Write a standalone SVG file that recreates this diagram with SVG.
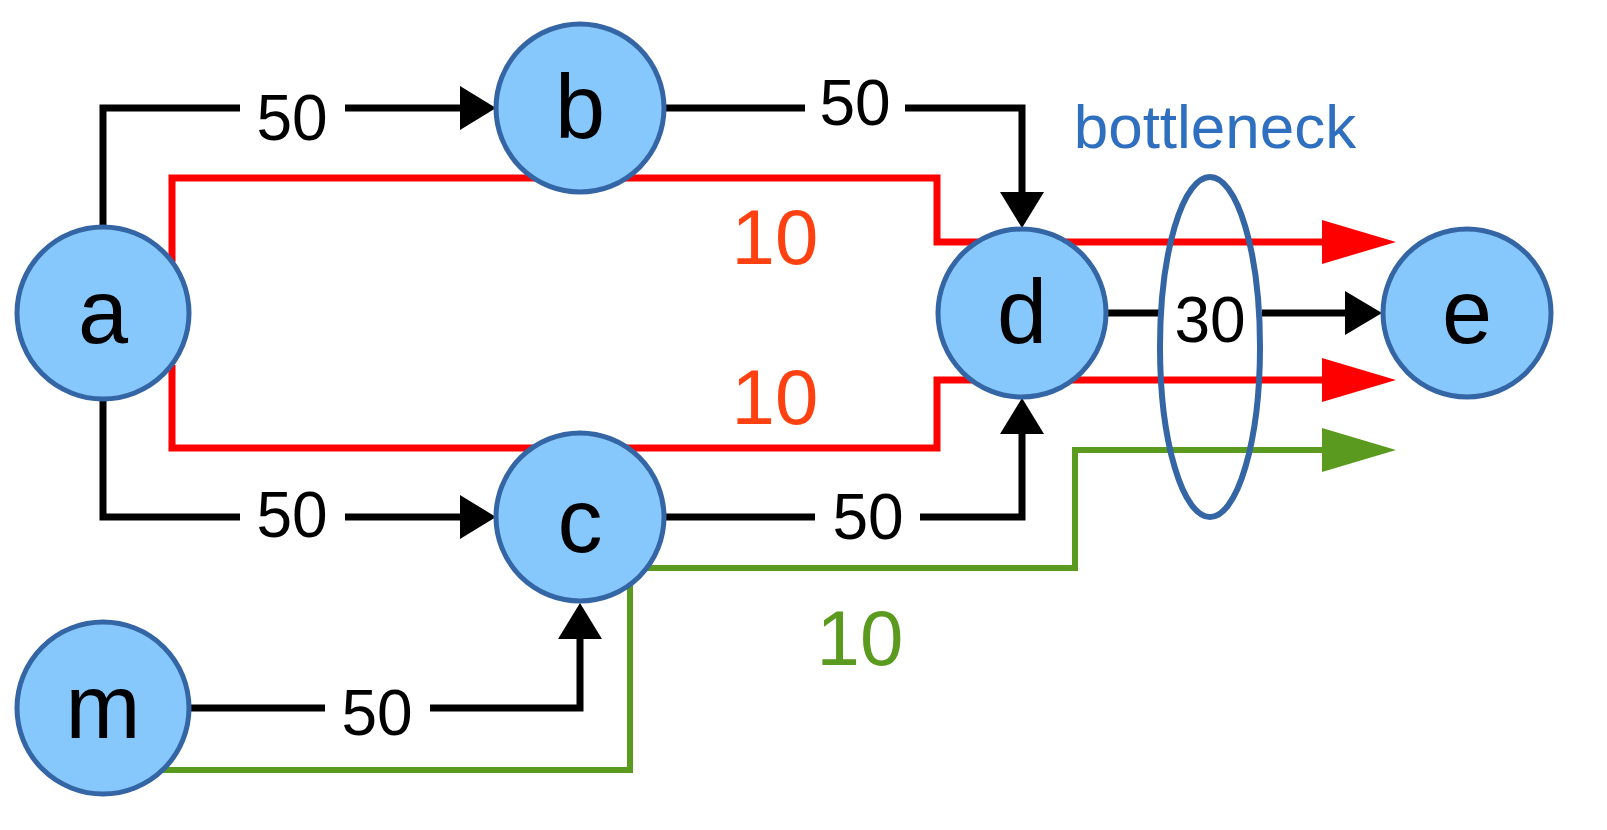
<svg xmlns="http://www.w3.org/2000/svg" width="1607" height="830" viewBox="0 0 1607 830">
<style>
.n{fill:#87c8fc;stroke:#3465a4;stroke-width:5}
.nt{font-family:"Liberation Sans",sans-serif;font-size:90px;text-anchor:middle;fill:#000}
.e{fill:none;stroke:#000;stroke-width:7}
.lb{font-family:"Liberation Sans",sans-serif;font-size:64px;text-anchor:middle;fill:#000}
.r{fill:none;stroke:#ff0000;stroke-width:7}
.g{fill:none;stroke:#5a9a1e;stroke-width:6}
.fl{font-family:"Liberation Sans",sans-serif;font-size:78px;text-anchor:middle}
</style>
<g id="connectors">
<path class="e" d="M103,226V108H240M345,108H460"/><path d="M460,86L496,108L460,130z"/>
<path class="e" d="M665,108H805M905,108H1022V195"/><path d="M1000,192L1022,228L1044,192z"/>
<path class="e" d="M103,400V517H240M345,517H460"/><path d="M460,495L496,517L460,539z"/>
<path class="e" d="M665,517H815M920,517H1022V432"/><path d="M1000,434L1022,398L1044,434z"/>
<path class="e" d="M188,708H325M430,708H580V637"/><path d="M558,639L580,603L602,639z"/>
<path class="e" d="M1107,313H1160M1262,313H1345"/><path d="M1345,291L1382,313L1345,335z"/>
<path class="r" d="M172,262V178H937V242H1325"/><path d="M1322,220L1396,242L1322,264z" fill="#ff0000"/>
<path class="r" d="M172,365V448H937V380H1325"/><path d="M1322,358L1396,380L1322,402z" fill="#ff0000"/>
<path class="g" d="M155,770H630V568H1075V450H1325"/><path d="M1322,428L1396,450L1322,472z" fill="#5a9a1e"/>
<text class="lb" x="292" y="140">50</text>
<text class="lb" x="855" y="125">50</text>
<text class="lb" x="292" y="537">50</text>
<text class="lb" x="868" y="539">50</text>
<text class="lb" x="377" y="735">50</text>
<text class="lb" x="1210" y="342">30</text>
<text class="fl" x="775" y="264" fill="#ff4010">10</text>
<text class="fl" x="775" y="424" fill="#ff4010">10</text>
<text class="fl" x="860" y="665" fill="#5a9a1e">10</text>
</g>
<g id="a"><circle class="n" cx="103" cy="313" r="86"/><text class="nt" x="103" y="343">a</text></g>
<g id="b"><circle class="n" cx="580" cy="108" r="84"/><text class="nt" x="580" y="138">b</text></g>
<g id="c"><circle class="n" cx="580" cy="517" r="84"/><text class="nt" x="580" y="552">c</text></g>
<g id="d"><circle class="n" cx="1022" cy="313" r="84"/><text class="nt" x="1022" y="343">d</text></g>
<g id="e"><circle class="n" cx="1467" cy="313" r="84"/><text class="nt" x="1467" y="343">e</text></g>
<g id="m"><circle class="n" cx="103" cy="708" r="86"/><text class="nt" x="103" y="738">m</text></g>
<g id="bottleneck">
<ellipse cx="1210" cy="347" rx="50" ry="170" fill="none" stroke="#3465a4" stroke-width="6"/>
<text x="1215" y="148" font-family="Liberation Sans,sans-serif" font-size="62" text-anchor="middle" fill="#2f6fc0">bottleneck</text>
</g>
</svg>
